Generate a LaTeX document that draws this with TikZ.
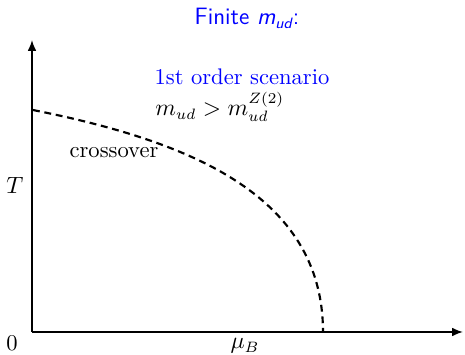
\documentclass[tikz,border=0pt]{standalone}
\usetikzlibrary{arrows.meta}
\begin{document}
\begin{tikzpicture}[x=0.465pt,y=0.465pt,
  axis/.style={line width=0.75pt,-{Latex[length=5pt,width=4pt]}},
  pline/.style={line width=1pt,dash pattern=on 3.2pt off 2.2pt},
  lbl/.style={inner sep=0pt,font=\fontsize{10.5}{12}\selectfont}]
\useasboundingbox (0,0) rectangle (465,355);
\coordinate (O) at (32,23);
\coordinate (yend) at (32,315);
\coordinate (xend) at (463,23);
\coordinate (cS) at (33,245);
\coordinate (cE) at (323,23);
\draw[axis] (O) -- (yend);
\draw[axis] (O) -- (xend);
\draw[pline] (cS) .. controls (183,215) and (323,163) .. (cE);
\node[lbl,blue,font=\fontsize{11}{13}\selectfont] (title) at (247,337) {\sffamily Finite \textit{m}\raisebox{-0.4ex}{\scriptsize\textit{ud}}:};
\node[lbl,blue] (first) at (242,278) {1st order scenario};
\node[lbl,anchor=west] (cond) at (155,248) {$m_{ud}>m_{ud}^{Z(2)}$};
\node[lbl] (cross) at (114,202) {crossover};
\node[lbl] (T) at (15,170) {$T$};
\node[lbl] (zero) at (12,12) {0};
\node[lbl] (muB) at (245,9) {$\mu_B$};
\end{tikzpicture}
\end{document}
